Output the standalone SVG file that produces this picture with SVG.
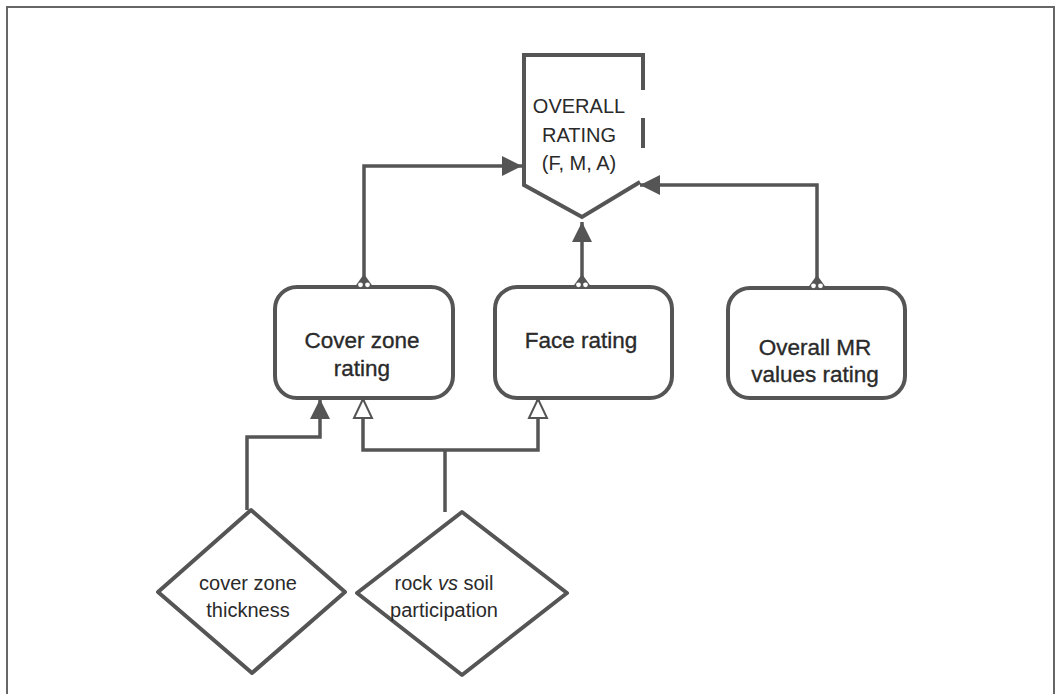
<svg xmlns="http://www.w3.org/2000/svg" width="1057" height="694" viewBox="0 0 1057 694">
<style>
.shape{fill:#fff;stroke:#555;stroke-width:4;stroke-linejoin:round}
.open{fill:none;stroke:#555;stroke-width:4;stroke-linejoin:miter}
.conn{fill:none;stroke:#555;stroke-width:3.5}
.lbl{font-family:"Liberation Sans",Arial,sans-serif;fill:#2a2a2a;text-anchor:middle}
.big{font-size:22.5px;stroke:#2a2a2a;stroke-width:0.35}
.mid{font-size:20px}
</style>
<defs>
<marker id="af" markerUnits="userSpaceOnUse" markerWidth="22" markerHeight="22" refX="20" refY="10" orient="auto" viewBox="0 0 22 20">
<path d="M0,0 L20,10 L0,20 Z" fill="#555"/>
</marker>
<marker id="ah" markerUnits="userSpaceOnUse" markerWidth="22" markerHeight="22" refX="19" refY="10" orient="auto-start-reverse" viewBox="-1 -1 22 22">
<path d="M0,1 L19,10 L0,19 Z" fill="#fff" stroke="#555" stroke-width="2"/>
</marker>
<g id="tail">
<path d="M-10,0 L0,-14 L10,0 Z" fill="#555"/>
<circle cx="-3.5" cy="-3.2" r="2.4" fill="#fff"/>
<circle cx="3.5" cy="-3.2" r="2.4" fill="#fff"/>
</g>
</defs>
<rect x="0" y="0" width="1057" height="694" fill="#fff"/>
<path d="M7,700 V7 H1054 V700" fill="none" stroke="#666" stroke-width="2"/>

<g id="overall-rating">
<path class="open" d="M643,55 H524 V185 L582,217 L640,182"/>
<path class="open" d="M643,53 V90 M643,118 V148"/>
<text class="lbl mid" x="579" y="113">OVERALL</text>
<text class="lbl mid" x="579" y="142">RATING</text>
<text class="lbl mid" x="579" y="170">(F, M, A)</text>
</g>

<g id="cover-zone-rating">
<rect class="shape" x="275" y="287" width="178" height="111" rx="22"/>
<text class="lbl big" x="362" y="348">Cover zone</text>
<text class="lbl big" x="362" y="376">rating</text>
</g>

<g id="face-rating">
<rect class="shape" x="495" y="287" width="177" height="111" rx="22"/>
<text class="lbl big" x="581" y="348">Face rating</text>
</g>

<g id="overall-mr">
<rect class="shape" x="728" y="288" width="177" height="110" rx="22"/>
<text class="lbl big" x="815" y="355">Overall MR</text>
<text class="lbl big" x="815" y="382">values rating</text>
</g>

<g id="cover-zone-thickness">
<path class="shape" d="M251,510 L345,592 L252,673 L158,592 Z"/>
<text class="lbl mid" x="248" y="590">cover zone</text>
<text class="lbl mid" x="248" y="617">thickness</text>
</g>

<g id="rock-vs-soil">
<path class="shape" d="M462,512 L567,593 L462,675 L357,593 Z"/>
<text class="lbl mid" x="444" y="590">rock <tspan font-style="italic">vs</tspan> soil</text>
<text class="lbl mid" x="444" y="617">participation</text>
</g>

<g id="connectors">
<path class="conn" d="M364,287 V166 H522" marker-end="url(#af)"/>
<path class="conn" d="M582,287 V222" marker-end="url(#af)"/>
<path class="conn" d="M817,288 V185 H640" marker-end="url(#af)"/>
<path class="conn" d="M247,510 V437 H320 V399" marker-end="url(#af)"/>
<path class="conn" d="M363,399 V450 H538 V399" marker-start="url(#ah)" marker-end="url(#ah)"/>
<path class="conn" d="M445,450 V512"/>
<use href="#tail" x="364" y="288"/>
<use href="#tail" x="582" y="288"/>
<use href="#tail" x="817" y="289"/>
</g>
</svg>
